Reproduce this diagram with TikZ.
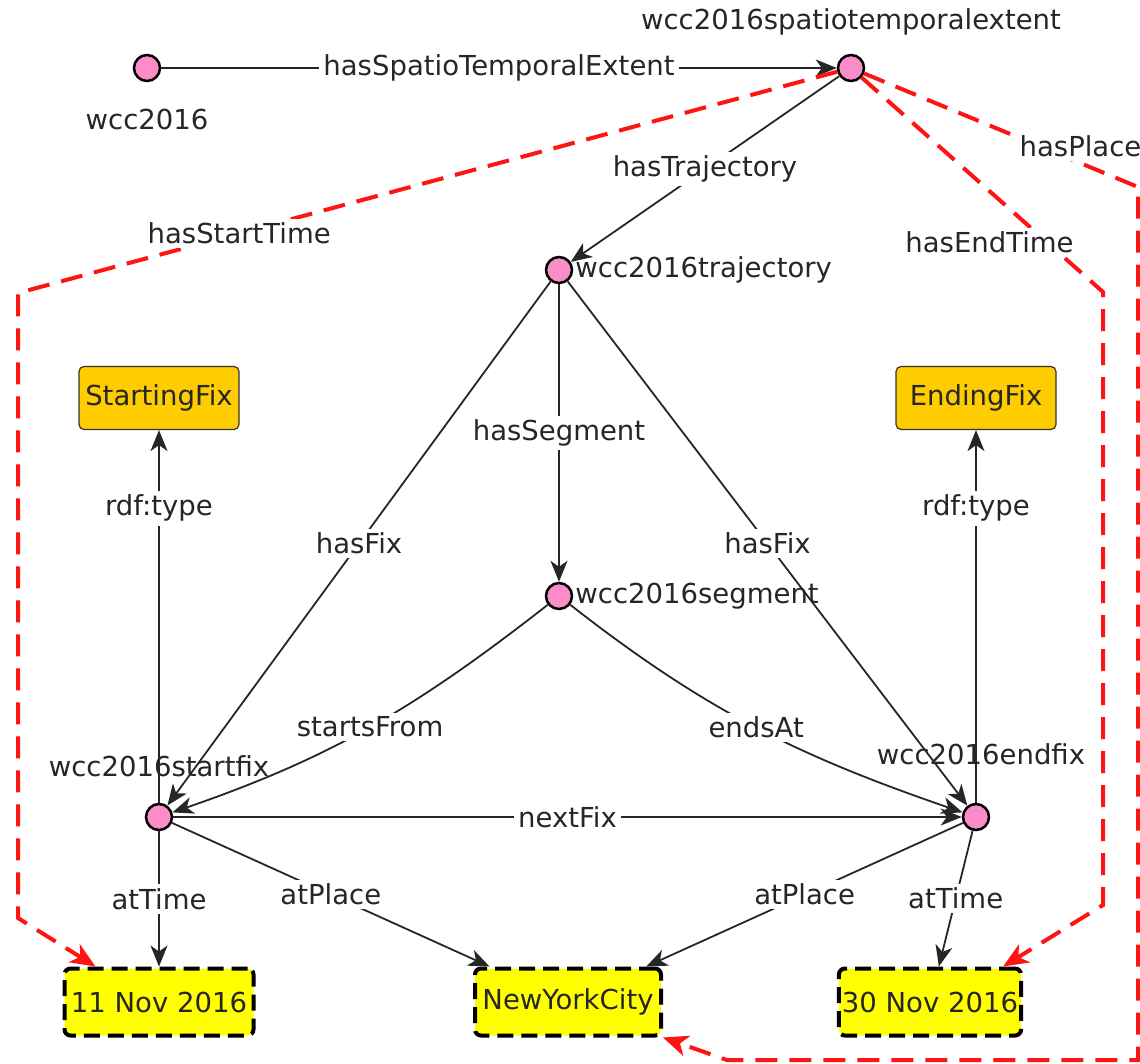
\documentclass[tikz,border=0pt]{standalone}
\usepackage{fontspec}
\setmainfont{DejaVu Sans}
\usetikzlibrary{arrows.meta, positioning}

\definecolor{indivpink}{RGB}{250,140,200}
\definecolor{classorange}{RGB}{255,204,0}
\definecolor{literalyellow}{RGB}{255,255,0}
\definecolor{linkred}{RGB}{255,20,20}

\begin{document}
\begin{tikzpicture}[x = 1pt, y = -1pt,
    font = \fontsize{27.5}{31}\selectfont, text = black!85,
    > = {Stealth[length = 21pt, width = 17pt, inset = 6pt]},
    indiv/.style = {shape = circle, draw = black, line width = 2.5pt, fill = indivpink,
        minimum size = 26pt, inner sep = 0pt},
    tag/.style = {inner sep = 2pt},
    cls/.style = {shape = rectangle, rounded corners = 5pt, draw = black!80, line width = 1.2pt,
        fill = classorange, minimum width = 160pt, minimum height = 63pt},
    lit/.style = {shape = rectangle, rounded corners = 6pt, draw = black, line width = 4pt,
        dash pattern = on 16pt off 8pt, fill = literalyellow, minimum height = 67pt, inner sep = 3pt},
    prop/.style = {->, line width = 1.8pt, draw = black!85},
    link/.style = {-{Stealth[length = 25pt, width = 21pt, inset = 7pt]}, line width = 4pt,
        draw = linkred, dash pattern = on 22pt off 12pt},
    lbl/.style = {fill = white, inner sep = 4pt}]
    \useasboundingbox (0,0) rectangle (1140,1063);

    % individuals
    \node[indiv] (wcc) at (147,68) {};
    \node[tag, below = 25pt of wcc] (wcctag) {wcc2016};
    \node[indiv] (ste) at (851,68) {};
    \node[tag, above = 16pt of ste] (stetag) {wcc2016spatiotemporalextent};
    \node[indiv] (traj) at (559,270) {};
    \node[tag, right = 0pt of traj] (trajtag) {wcc2016trajectory};
    \node[indiv] (seg) at (559,596) {};
    \node[tag, right = 0pt of seg] (segtag) {wcc2016segment};
    \node[indiv] (sfix) at (159,817) {};
    \node[tag, above = 24pt of sfix] (sfixtag) {wcc2016startfix};
    \node[indiv] (efix) at (976,817) {};
    \node[tag, above = 36pt of efix, xshift = 5pt] (efixtag) {wcc2016endfix};

    % classes and literals
    \node[cls] (sclass) at (159,398) {StartingFix};
    \node[cls] (eclass) at (976,398) {EndingFix};
    \node[lit, minimum width = 189pt] (dstart) at (159,1002) {11 Nov 2016};
    \node[lit, minimum width = 186pt] (nyc) at (568,1002) {NewYorkCity};
    \node[lit, minimum width = 181pt] (dend) at (930,1002) {30 Nov 2016};

    % object properties
    \draw[prop] (wcc) -- node[lbl] {hasSpatioTemporalExtent} (ste);
    \draw[prop] (ste) -- node[lbl] {hasTrajectory} (traj);
    \draw[prop] (traj) -- node[lbl] {hasSegment} (seg);
    \draw[prop] (traj) -- node[lbl] {hasFix} (sfix);
    \draw[prop] (traj) -- node[lbl] {hasFix} (efix);
    \draw[prop] (seg) to[out = 218, in = 19] node[lbl] {startsFrom} (sfix);
    \draw[prop] (seg) to[out = -38, in = 161] node[lbl] {endsAt} (efix);
    \draw[prop] (sfix) -- node[lbl] {nextFix} (efix);
    \draw[prop] (sfix) -- node[lbl, pos = 0.79] {rdf:type} (sclass);
    \draw[prop] (efix) -- node[lbl, pos = 0.79] {rdf:type} (eclass);
    \draw[prop] (sfix) -- node[lbl] {atTime} (dstart);
    \draw[prop] (sfix) -- node[lbl] {atPlace} (nyc);
    \draw[prop] (efix) -- node[lbl] {atPlace} (nyc);
    \draw[prop] (efix) -- node[lbl] {atTime} (dend);

    % routed links
    \coordinate (stbend) at (18,293);
    \coordinate (stdrop) at (18,918);
    \draw[link] (ste) -- node[lbl, pos = 0.73] {hasStartTime} (stbend) -- (stdrop)
        -- ([xshift = 33pt]dstart.north west);
    \coordinate (etbend) at (1103,292);
    \coordinate (etdrop) at (1103,905);
    \draw[link] (ste) -- node[lbl, pos = 0.77, xshift = -58pt] {hasEndTime} (etbend) -- (etdrop)
        -- ([xshift = -20pt]dend.north east);
    \coordinate (plbend) at (1138,187);
    \coordinate (pldrop) at (1138,1060);
    \coordinate (plturn) at (727,1060);
    \draw[link] (ste) -- node[lbl, pos = 0.79, yshift = 17pt] {hasPlace} (plbend) -- (pldrop)
        -- (plturn) -- (nyc.south east);
\end{tikzpicture}
\end{document}
